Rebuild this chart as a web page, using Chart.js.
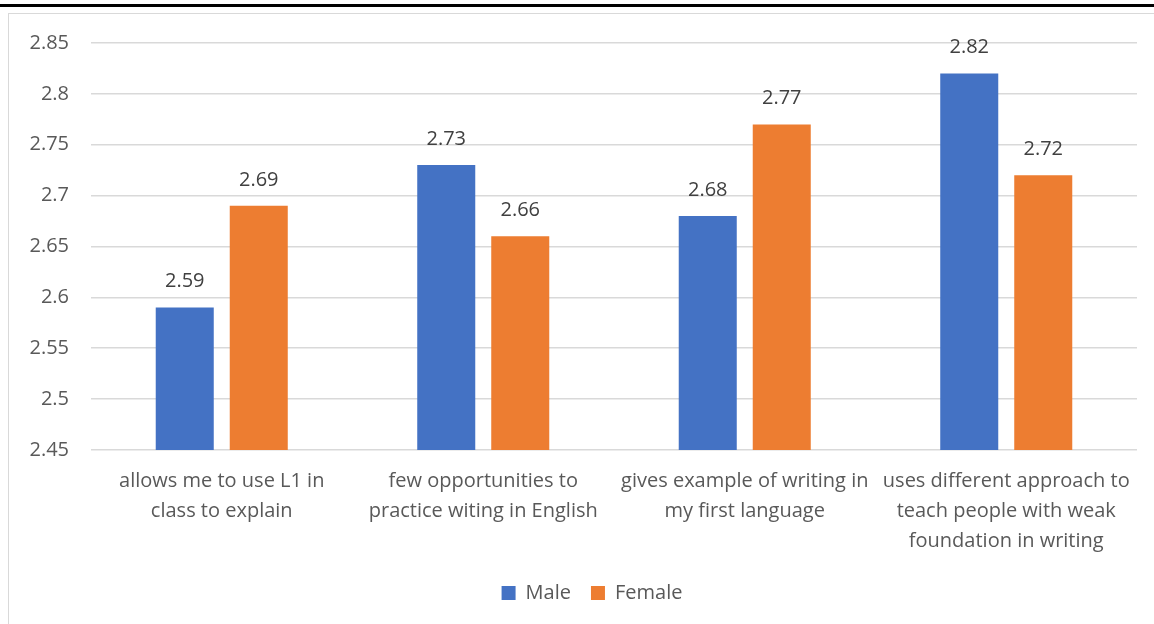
<!DOCTYPE html>
<html>
<head>
<meta charset="utf-8">
<script src="https://cdn.jsdelivr.net/npm/chart.js@4"></script>
<style>
  html,body{margin:0;padding:0;background:#fff;}
  body{width:1154px;height:624px;position:relative;overflow:hidden;}
  #topline{position:absolute;left:0;top:4px;width:1154px;height:3px;background:#000;}
  #frame{position:absolute;left:8px;top:13px;width:1160px;height:640px;border-left:1.5px solid #d9d9d9;border-top:1.5px solid #d9d9d9;}
  #wrap{position:absolute;left:0;top:0;width:1154px;height:624px;}
</style>
</head>
<body>
<div id="topline"></div>
<div id="frame"></div>
<div id="wrap"><canvas id="c" width="1154" height="624"></canvas></div>
<script>
const categories = [
  ["allows me to use L1 in", "class to explain"],
  ["few opportunities to", "practice witing in English"],
  ["gives example of writing in", "my first language"],
  ["uses different approach to", "teach people with weak", "foundation in writing"]
];
const seriesNames = ["Male", "Female"];
const maleValues = [2.59, 2.73, 2.68, 2.82];
const femaleValues = [2.69, 2.66, 2.77, 2.72];
const yMin = 2.45, yMax = 2.85, yStep = 0.05;

const FONT = "'Open Sans', 'DejaVu Sans', sans-serif";
const TEXT = "#595959";

const labelPlugin = {
  id: 'barLabels',
  afterLayout(chart) {
    if (chart.legend) { chart.legend.left += 11; chart.legend.right += 11; }
  },
  afterDatasetsDraw(chart) {
    const ctx = chart.ctx;
    ctx.save();
    ctx.font = "20px " + FONT;
    ctx.fillStyle = "#404040";
    ctx.textAlign = "center";
    ctx.textBaseline = "middle";
    chart.data.datasets.forEach((ds, i) => {
      chart.getDatasetMeta(i).data.forEach((bar, j) => {
        ctx.fillText(ds.data[j].toFixed(2), bar.x, bar.y - 26);
      });
    });
    ctx.restore();
  }
};

new Chart(document.getElementById('c'), {
  type: 'bar',
  data: {
    labels: categories,
    datasets: [
      { label: seriesNames[0], data: maleValues, backgroundColor: '#4472C4', categoryPercentage: 0.566, barPercentage: 0.784 },
      { label: seriesNames[1], data: femaleValues, backgroundColor: '#ED7D31', categoryPercentage: 0.566, barPercentage: 0.784 }
    ]
  },
  options: {
    responsive: false,
    animation: false,
    layout: { padding: { left: 25, right: 17, top: 43, bottom: 11 } },
    plugins: {
      legend: {
        position: 'bottom',
        labels: { boxWidth: 14, boxHeight: 14, color: TEXT, font: { size: 20, family: FONT }, padding: 20 }
      },
      tooltip: { enabled: false }
    },
    scales: {
      x: {
        grid: { display: false, drawTicks: false },
        border: { display: false },
        ticks: { color: TEXT, font: { size: 20, family: FONT, lineHeight: 1.5 }, padding: 16, maxRotation: 0, autoSkip: false },
        afterFit: s => { s.height = s.height - 9; }
      },
      y: {
        min: yMin, max: yMax,
        grid: { color: '#d9d9d9', lineWidth: 1.5, drawTicks: false },
        border: { display: false },
        ticks: { stepSize: yStep, color: TEXT, font: { size: 20, family: FONT }, padding: 22,
          callback: v => parseFloat(v.toFixed(2)).toString() },
        afterFit: s => { s.width = 66; }
      }
    }
  },
  plugins: [labelPlugin]
});
</script>
</body>
</html>
